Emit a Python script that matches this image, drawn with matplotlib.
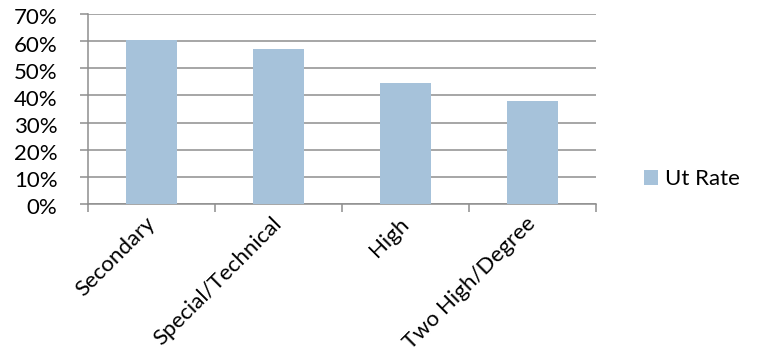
import matplotlib
matplotlib.use("Agg")
import matplotlib.pyplot as plt
import matplotlib.transforms as mtransforms
from matplotlib.ticker import PercentFormatter, FixedLocator

categories = ["Secondary", "Special/Technical", "High", "Two High/Degree"]
ut_rate = [60.4, 57.1, 44.6, 37.8]
series_name = "Ut Rate"
y_ticks = [0, 10, 20, 30, 40, 50, 60, 70]

plt.rcParams["font.family"] = ["Lato", "DejaVu Sans"]

W, H = 759, 357
fig = plt.figure(figsize=(W / 100, H / 100), dpi=100)
ax = fig.add_axes([88 / W, 1 - 204 / H, (596 - 88) / W, (204 - 14) / H])

grid_col = "#8e8e8e"
bar_col = "#a6c2da"
fs = 16

x = list(range(len(categories)))
bars = ax.bar(x, ut_rate, width=0.4, color=bar_col, zorder=3, label=series_name)

ax.set_xlim(-0.5, len(categories) - 0.5)
ax.set_ylim(0, 70)
ax.set_yticks(y_ticks)
ax.yaxis.set_major_formatter(PercentFormatter(decimals=0))
ax.yaxis.grid(True, color=grid_col, linewidth=1.1, zorder=0)

ax.set_xticks(x)
ax.set_xticklabels(categories, rotation=45, ha="right", va="center",
                   rotation_mode="anchor")
ax.xaxis.set_minor_locator(FixedLocator([i - 0.5 for i in range(len(categories) + 1)]))
ax.tick_params(axis="x", which="major", length=0, pad=12, labelsize=fs)
ax.tick_params(axis="x", which="minor", length=6, width=1.1, color=grid_col)
ax.tick_params(axis="y", length=6, width=1.1, color=grid_col, pad=16, labelsize=fs)

# nudge the percentage labels slightly below their gridlines
shift = mtransforms.ScaledTranslation(0, -2.5 / 100, fig.dpi_scale_trans)
for lbl in ax.get_yticklabels():
    lbl.set_transform(lbl.get_transform() + shift)

for side in ["top", "right"]:
    ax.spines[side].set_visible(False)
for side in ["left", "bottom"]:
    ax.spines[side].set_color(grid_col)
    ax.spines[side].set_linewidth(1.1)

fig.legend(handles=[bars], labels=[series_name], loc="center left",
           bbox_to_anchor=(644 / W, 1 - 179 / H), frameon=False,
           handlelength=0.65, handleheight=0.65, handletextpad=0.3,
           borderpad=0, borderaxespad=0, fontsize=fs)

fig.savefig("out.png", dpi=100)
